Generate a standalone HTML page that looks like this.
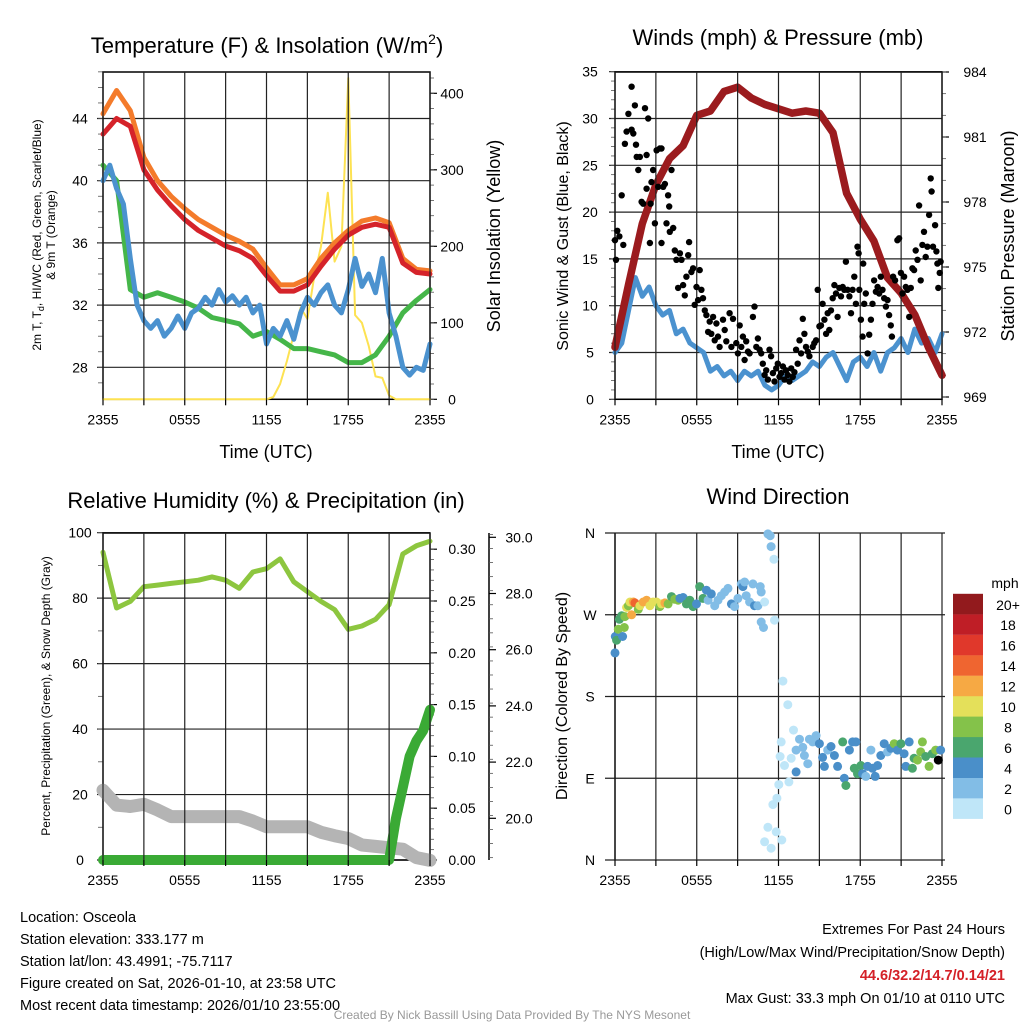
<!DOCTYPE html>
<html><head><meta charset="utf-8"><title>Osceola Mesonet</title>
<style>
html,body{margin:0;padding:0;background:#fff;width:1024px;height:1024px;overflow:hidden}
svg{display:block;font-family:"Liberation Sans",Arial,sans-serif}
</style></head>
<body>
<svg id="chart" width="1024" height="1024" viewBox="0 0 1024 1024" xmlns="http://www.w3.org/2000/svg">
<rect width="1024" height="1024" fill="#fff"/>
<text x="267" y="53" font-size="22" text-anchor="middle">Temperature (F) &amp; Insolation (W/m<tspan font-size="14" dy="-9">2</tspan><tspan dy="9">)</tspan></text>
<text x="778" y="45" font-size="22" text-anchor="middle">Winds (mph) &amp; Pressure (mb)</text>
<text x="266" y="508" font-size="22" text-anchor="middle">Relative Humidity (%) &amp; Precipitation (in)</text>
<text x="778" y="504" font-size="22" text-anchor="middle">Wind Direction</text>
<g font-size="12" text-anchor="middle">
<text transform="translate(41,235) rotate(-90)">2m T, T<tspan font-size="9" dy="3">d</tspan><tspan dy="-3">, HI/WC (Red, Green, Scarlet/Blue)</tspan></text>
<text transform="translate(55,235) rotate(-90)">&amp; 9m T (Orange)</text>
</g>
<text transform="translate(500,236) rotate(-90)" font-size="18" text-anchor="middle">Solar Insolation (Yellow)</text>
<text x="266" y="458" font-size="18" text-anchor="middle">Time (UTC)</text>
<text x="778" y="458" font-size="18" text-anchor="middle">Time (UTC)</text>
<text transform="translate(568,236) rotate(-90)" font-size="16" text-anchor="middle">Sonic Wind &amp; Gust (Blue, Black)</text>
<text transform="translate(1014,236) rotate(-90)" font-size="18" text-anchor="middle">Station Pressure (Maroon)</text>
<text transform="translate(50,696) rotate(-90)" font-size="12" text-anchor="middle">Percent, Precipitation (Green), &amp; Snow Depth (Gray)</text>
<text transform="translate(567,696) rotate(-90)" font-size="16" text-anchor="middle">Direction (Colored By Speed)</text>
<g font-size="14.5">
<text x="20" y="922">Location: Osceola</text>
<text x="20" y="944">Station elevation: 333.177 m</text>
<text x="20" y="966">Station lat/lon: 43.4991; -75.7117</text>
<text x="20" y="988">Figure created on Sat, 2026-01-10, at 23:58 UTC</text>
<text x="20" y="1010">Most recent data timestamp: 2026/01/10 23:55:00</text>
</g>
<g font-size="14.5" text-anchor="end">
<text x="1005" y="934">Extremes For Past 24 Hours</text>
<text x="1005" y="957">(High/Low/Max Wind/Precipitation/Snow Depth)</text>
<text x="1005" y="980" fill="#d42027" font-weight="bold">44.6/32.2/14.7/0.14/21</text>
<text x="1005" y="1003">Max Gust: 33.3 mph On 01/10 at 0110 UTC</text>
</g>
<text x="512" y="1019" font-size="12" fill="#999" text-anchor="middle">Created By Nick Bassill Using Data Provided By The NYS Mesonet</text>
</svg>
<script>
// ---------- data ----------
const timeTickLabels = ["2355","0555","1155","1755","2355"];
const tempTicks = [28,32,36,40,44];
const solarTicks = [0,100,200,300,400];
const windTicks = [0,5,10,15,20,25,30,35];
const pressTicks = [969,972,975,978,981,984];
const rhTicks = [0,20,40,60,80,100];
const precipTicks = [0,0.05,0.10,0.15,0.20,0.25,0.30];
const snowTicks = [20,22,24,26,28,30];
const dirTicks = ["N","E","S","W","N"];
const dirTickVals = [0,90,180,270,360];
const speedBins = ["0","2","4","6","8","10","12","14","16","18","20+"];
const speedColors = ["#bfe6f8","#82bde6","#4a8fc9","#4aa66e","#84c24a","#e4e05a","#f6a944","#ef6530","#e0382b","#bf1e26","#921a1d"];

// hourly (0..24h)
const tempRed = [43.0,44.0,43.5,40.7,39.4,38.4,37.5,36.8,36.3,35.8,35.5,35.0,33.9,32.9,32.9,33.3,34.5,35.6,36.5,37.0,37.2,37.0,34.7,34.1,34.0];
const tempOrange = [44.3,45.8,44.5,41.5,40.0,39.0,38.2,37.5,37.0,36.5,36.1,35.6,34.4,33.3,33.3,33.7,35.0,36.0,36.8,37.4,37.6,37.3,35.0,34.3,34.2];
const tempGreen = [41.0,40.0,33.0,32.5,32.8,32.5,32.2,31.8,31.2,31.0,30.8,30.0,30.3,29.8,29.2,29.2,29.0,28.8,28.3,28.3,28.8,30.0,31.5,32.3,33.0];
// half-hourly (0..24h)
const tempBlue = [40,41,39.5,38.5,35,32,31,30.5,31,30,30.5,31.3,30.5,31.5,31.8,32.5,32,33,32.2,32.6,32,32.5,31.5,32,29.5,30.5,30,31,29.8,31.5,32.5,32,32.8,33.3,32,31.5,33,35,33.2,34,32.8,35,31.5,30,28,27.5,28,27.8,29.5];
const solar = [0,0,0,0,0,0,0,0,0,0,0,0,0,0,0,0,0,0,0,0,0,0,0,0,0,3,20,50,85,120,105,160,200,270,180,200,420,110,100,70,30,28,5,0,0,0,0,0,0];
const pressure = [971.3,974.2,977,978.8,980,980.6,982,982.2,983.1,983.3,982.8,982.5,982.3,982.1,982.2,982.1,981.2,978.4,977.2,976.2,974.5,973.8,972.8,971.3,970];
const windSpeed = [5,6,9.5,13,11,12,10,9,9.5,7,7.5,6,5.5,5,3,3.5,2.5,3,2,3,2.5,3,1.5,1,1.5,2.5,2,2.5,3,4,3.5,4.5,5,3.5,2,4,4.5,3.5,5,3,5,5.5,6.5,5,7.5,6,6.5,5,7];
const gustTime = [0,0.07,0.17,0.32,0.61,0.49,0.73,0.85,0.98,1.22,1.22,1.34,1.46,1.54,1.59,1.71,1.83,1.95,2.07,2.2,2.32,2.32,2.44,2.56,2.61,2.68,2.8,2.93,3.05,3.17,3.29,3.41,3.41,3.54,3.66,3.78,3.9,3.98,4.02,4.15,4.27,4.39,4.51,4.63,4.76,4.88,5,5.12,5.24,5.37,5.44,5.61,5.73,5.85,5.98,6.1,6.22,6.34,6.46,6.59,6.71,6.83,6.95,7.07,7.2,7.32,7.44,7.56,7.68,7.93,8.05,8.17,8.41,8.54,8.66,8.9,9.02,9.15,9.27,9.39,9.51,9.63,9.76,9.88,10.12,10.24,10.37,10.49,10.61,10.73,10.85,10.98,11.1,11.22,11.34,11.46,11.59,11.71,11.83,11.95,12.07,12.2,12.32,12.44,12.56,12.68,12.8,12.93,13.05,13.17,13.29,13.41,13.54,13.66,13.78,13.9,14.02,14.15,14.27,14.51,14.63,14.76,14.88,15,15.12,15.24,15.37,15.49,15.61,15.73,15.85,15.98,16.1,16.22,16.34,16.46,16.59,16.71,16.83,16.95,17.07,17.2,17.32,17.44,17.56,17.68,17.8,17.88,17.93,18.05,18.17,18.22,18.29,18.41,18.54,18.66,18.78,18.9,19.02,19.15,19.27,19.39,19.51,19.63,19.76,19.88,20,20.12,20.24,20.32,20.41,20.56,20.73,20.85,20.98,21.1,21.22,21.34,21.46,21.59,21.71,21.83,21.95,22.07,22.2,22.32,22.44,22.56,22.68,22.8,22.93,23.05,23.17,23.24,23.34,23.49,23.59,23.66,23.73,23.83,23.9];
const gustSpeed = [17,14.9,18,17.4,16.5,21.8,27.3,28.6,30.5,33.4,28.8,28.4,31.4,27.2,25.9,24.5,25.9,21.1,20.9,31.1,22.5,26.1,30,16.7,20.9,23.2,24.5,18.8,26.6,22.7,26.8,16.7,26.8,22.7,23,18.8,21.8,20.6,17.9,24.5,18.3,15.9,14.9,11.9,15.6,14.9,12.2,11.1,13.1,15.4,16.8,13.6,14,10.1,12,10.6,13.8,11.7,10.8,9.5,9,7.2,8.3,7,8.8,6.3,8.1,6.7,5.6,8.5,7.4,6.2,9.2,5.6,8.6,6,4.9,7.9,5.6,6.7,4.2,6.2,5.1,4.9,8.8,9.9,5.6,6.5,5.3,4.9,3.8,2.6,3.1,2.1,5.3,4.6,2.8,1.9,3.3,3.8,2.4,2.8,3.5,2.1,3.1,2.6,1.9,3.3,2.4,2.9,5.3,3.8,6.3,4.9,8.6,7,5.6,5.1,4.6,5.6,6,6.3,11.7,7.8,7.9,10.2,8.5,7,9.2,7.4,9.5,10.8,12.2,11.3,8.8,11.9,11,12,11.7,14.7,11.7,11,9.2,11.7,13.1,10.2,16.3,15.6,11.7,8.5,6.7,14.5,10.2,11.3,4.9,6.9,8.5,10.2,12.7,11.5,12,11.3,13.1,11.7,10.8,9.9,10.6,9,7.9,6.7,13.1,12.7,17,17.2,13.5,11.3,13.1,12,11.7,8.8,11.9,14,13.8,15.9,14.9,20.7,12.7,16.5,17.9,15.2,16.3,19.7,23.6,22.2,16.3,18.6,15.8,14.5,11.9,13.5,14.7];
const rh = [94,77,79,83.5,84,84.5,85,85.5,86.5,85.5,83,88,89,92,85,82,79,76.5,70.5,71.5,73.5,78,93.5,96,97.4];
const snowDepth = [21.0,20.47,20.42,20.5,20.3,20.06,20.06,20.06,20.06,20.06,20.06,19.9,19.7,19.7,19.7,19.7,19.5,19.38,19.28,19.05,19.0,18.95,18.9,18.6,18.5];
const precip = [0,0,0,0,0,0,0,0,0,0,0,0,0,0,0,0,0,0,0,0,0,0,0,0,0,0,0,0,0,0,0,0,0,0,0,0,0,0,0,0,0,0,0,0.04,0.07,0.1,0.115,0.125,0.145];
const dirTime = [0,0.02,0.12,0.24,0.56,0.68,0.32,0.49,0.73,0.85,0.98,1.1,1.22,1.34,1.46,1.71,1.83,2.07,2.32,2.56,2.8,3.05,3.29,3.41,3.66,3.9,4.15,4.39,4.63,4.76,5,5.24,5.49,5.73,5.98,6.22,6.46,6.71,6.83,7.07,7.32,7.56,7.8,8.05,8.29,8.54,8.78,9.02,9.27,9.39,9.51,9.63,9.88,10.12,10.24,10.49,10.66,10.73,10.98,10.73,10.9,11.22,11.39,11.46,11.66,11.71,12.32,12.68,13.1,12.2,12.12,12.44,12.93,12.76,12.02,11.88,11.59,11.22,11.83,12.24,10.98,11.46,13.29,13.54,13.78,13.9,14.15,14.27,14.51,14.76,15,13.29,15.24,15.37,15.61,15.85,16.1,16.34,16.71,16.83,16.95,17.2,17.44,17.68,17.56,17.8,18.05,18.17,18.41,18.54,18.78,18.9,19.1,19.27,19.51,19.76,20,20.24,20.49,20.73,20.98,21.22,21.34,21.59,21.83,21.95,22.2,22.44,22.56,22.8,23.05,23.29,23.54,23.9,23.73];
const dirDeg = [228,246,242,254,246,256,265,269,268,278,280,284,270,284,283,276,280,284,286,280,284,284,279,282,283,282,290,287,286,288,289,282,286,279,282,301,288,297,286,293,280,286,291,295,299,282,279,288,304,301,306,291,284,304,280,280,301,295,284,262,256,359,357,345,331,264,197,171,143,130,114,104,112,86,83,68,61,36,31,22,20,13,121,133,124,115,106,133,130,137,128,97,113,103,121,125,115,103,130,90,82,121,130,130,101,95,104,95,92,103,121,101,92,104,115,128,119,123,128,121,128,117,103,130,101,112,110,119,130,114,103,117,121,121,110];
const dirSpeed = [4,4,6,8,4,8,6,6,8,10,8,10,12,12,14,8,10,12,12,10,10,10,8,10,12,8,6,8,8,4,4,6,6,6,4,6,6,4,2,4,2,2,2,2,2,4,2,2,2,4,2,2,2,2,4,2,2,2,0,2,2,2,2,2,0,0,0,0,0,0,0,0,0,0,0,0,0,0,0,0,0,0,2,2,2,2,2,2,2,2,4,4,4,4,2,4,4,4,6,4,6,4,4,4,6,6,6,4,2,4,2,4,4,4,4,4,2,4,8,4,6,4,4,4,6,6,8,8,8,6,8,6,8,4];

// ---------- scales ----------
const X1 = h => 103 + h * 327 / 24;
const X2 = h => 615 + h * 327 / 24;
const yTemp = v => 367.3 - (v - 28) * 62.2 / 4;
const ySolar = v => 399.3 - v * 0.765;
const yWind = v => 399.3 - v * 327.6 / 35;
const yPress = v => 397 - (v - 969) * 325 / 15;
const yRH = v => 860 - v * 3.273;
const yPrecip = v => 860 - v * 1036;
const ySnow = v => 818.3 - (v - 20) * 28.1;
const yDir = d => 860 - d * 327 / 360;

const NS = "http://www.w3.org/2000/svg";
const svg = document.getElementById('chart');
function mk(tag, attrs, parent) {
  const e = document.createElementNS(NS, tag);
  for (const k in attrs) e.setAttribute(k, attrs[k]);
  (parent || svg).appendChild(e);
  return e;
}
function group(name) {
  const g = mk('g', {});
  
  
  return g;
}
function ln(g, x1, y1, x2, y2, w, c) { return mk('line', {x1, y1, x2, y2, stroke: c || '#000', 'stroke-width': w || 1}, g); }
function txt(g, x, y, s, size, anchor) { const t = mk('text', {x, y, 'font-size': size || 14, 'text-anchor': anchor || 'middle'}, g); t.textContent = s; return t; }
function series(g, xs, ys, color, width, name) {
  let d = '';
  for (let i = 0; i < ys.length; i++) d += (i ? 'L' : 'M') + xs(i).toFixed(1) + ',' + ys[i].toFixed(1);
  const p = mk('path', {d, fill: 'none', stroke: color, 'stroke-width': width, 'stroke-linejoin': 'round', 'stroke-linecap': 'round'}, g);
  
  
  return p;
}

// ---------- common frames ----------
function timeFrame(X, top, bottom, name, grid) {
  const g = group(name);
  for (let k = 0; k <= 8; k++) {
    const x = X(k * 3);
    if (grid) ln(g, x, top, x, bottom, 1.2, '#222');
    ln(g, x, bottom, x, bottom + 6, 1.2);
  }
  timeTickLabels.forEach((s, i) => txt(g, X(i * 6), bottom + 25, s, 14));
  return g;
}

// ===== Panel 1 =====
const p1 = group('temperature-panel');
timeFrame(X1, 72, 399.3, 'temperature-x-axis', true);
tempTicks.forEach(v => { ln(p1, 97, yTemp(v), 430, yTemp(v), 1.2, '#222'); txt(p1, 80, yTemp(v) + 5, String(v), 14); });
for (let v = 27; v <= 47; v++) ln(p1, 103, yTemp(v), 98, yTemp(v), 0.8, '#555');
solarTicks.forEach(v => { ln(p1, 430, ySolar(v), 437, ySolar(v), 1.2); txt(p1, 452, ySolar(v) + 5, String(v), 14); });
for (let v = 0; v <= 420; v += 20) ln(p1, 430, ySolar(v), 434, ySolar(v), 0.8, '#555');
mk('rect', {x: 103, y: 72, width: 327, height: 327.3, fill: 'none', stroke: '#000', 'stroke-width': 1.5}, p1);
series(p1, i => X1(i / 2), solar.map(ySolar), '#fde252', 2, 'insolation-line');
series(p1, i => X1(i), tempGreen.map(yTemp), '#45b649', 5, 'heat-index-wind-chill-line');
series(p1, i => X1(i / 2), tempBlue.map(yTemp), '#4b92cf', 5, 'dew-point-line');
series(p1, i => X1(i), tempOrange.map(yTemp), '#f47b2b', 5, 'temp-9m-line');
series(p1, i => X1(i), tempRed.map(yTemp), '#d5232a', 5, 'temp-2m-line');

// ===== Panel 2 =====
const p2 = group('winds-panel');
timeFrame(X2, 72, 399.3, 'winds-x-axis', true);
windTicks.forEach(v => { ln(p2, 609, yWind(v), 942, yWind(v), 1.2, '#222'); txt(p2, 590, yWind(v) + 5, String(v), 14); });
for (let v = 0; v <= 35; v++) ln(p2, 615, yWind(v), 611, yWind(v), 0.8, '#555');
pressTicks.forEach(v => { ln(p2, 942, yPress(v), 949, yPress(v), 1.2); txt(p2, 975, yPress(v) + 5, String(v), 14); });
for (let v = 969; v <= 984; v++) ln(p2, 942, yPress(v), 946, yPress(v), 0.8, '#555');
mk('rect', {x: 615, y: 72, width: 327, height: 327.3, fill: 'none', stroke: '#000', 'stroke-width': 1.5}, p2);
series(p2, i => X2(i / 2), windSpeed.map(yWind), '#4b92cf', 5, 'sonic-wind-line');
const gg = group('gust-points');
for (let i = 0; i < gustTime.length; i++) {
  const c = mk('circle', {cx: X2(gustTime[i]).toFixed(1), cy: yWind(gustSpeed[i]).toFixed(1), r: 3.2, fill: '#000'}, gg);
  
  
}
series(p2, i => X2(i), pressure.map(yPress), '#9b1b1e', 7.5, 'pressure-line');

// ===== Panel 3 =====
const p3 = group('humidity-panel');
timeFrame(X1, 533, 860, 'humidity-x-axis', true);
rhTicks.forEach(v => { ln(p3, 97, yRH(v), 430, yRH(v), 1.2, '#222'); txt(p3, 80, yRH(v) + 5, String(v), 14); });
for (let v = 0; v <= 100; v += 10) ln(p3, 103, yRH(v), 98, yRH(v), 0.8, '#555');
mk('rect', {x: 103, y: 533, width: 327, height: 327, fill: 'none', stroke: '#000', 'stroke-width': 1.5}, p3);
precipTicks.forEach(v => { ln(p3, 430, yPrecip(v), 437, yPrecip(v), 1.2); txt(p3, 462, yPrecip(v) + 5, v.toFixed(2), 14); });
for (let v = 0; v <= 0.31; v += 0.01) ln(p3, 430, yPrecip(v), 434, yPrecip(v), 0.8, '#555');
ln(p3, 489, 533, 489, 860, 1.5);
snowTicks.forEach(v => { ln(p3, 489, ySnow(v), 496, ySnow(v), 1.2); txt(p3, 519, ySnow(v) + 5, v.toFixed(1), 14); });
for (let v = 18.6; v <= 30.1; v += 0.5) ln(p3, 489, ySnow(v), 493, ySnow(v), 0.8, '#555');
series(p3, i => X1(i), snowDepth.map(ySnow), '#b4b4b4', 13, 'snow-depth-line');
series(p3, i => X1(i), rh.map(yRH), '#8dc63f', 5, 'relative-humidity-line');
series(p3, i => X1(i / 2), precip.map(yPrecip), '#3aaa35', 10, 'precipitation-line');

// ===== Panel 4 =====
const p4 = group('wind-direction-panel');
timeFrame(X2, 533, 860, 'direction-x-axis', true);
dirTickVals.forEach((d, i) => { ln(p4, 605, yDir(d), 945, yDir(d), 1.2, '#222'); txt(p4, 590, yDir(d) + 5, dirTicks[i], 14); });
ln(p4, 615, 533, 615, 860, 1.5);
const dp = group('direction-points');
for (let i = 0; i < dirTime.length; i++) {
  const c = mk('circle', {cx: X2(dirTime[i]).toFixed(1), cy: yDir(dirDeg[i]).toFixed(1), r: 4.5, fill: speedColors[Math.min(10, Math.floor(dirSpeed[i] / 2))]}, dp);
  
  
}
const lg = group('speed-colorbar');
txt(lg, 1005, 588, 'mph', 14);
speedBins.forEach((s, i) => {
  const y = 818.7 - (i + 1) * 20.45;
  const r = mk('rect', {x: 953, y: y.toFixed(1), width: 30, height: 20.6, fill: speedColors[i]}, lg);
  
  
  txt(lg, 1008, y + 16, s, 14);
});
</script>
</body></html>
